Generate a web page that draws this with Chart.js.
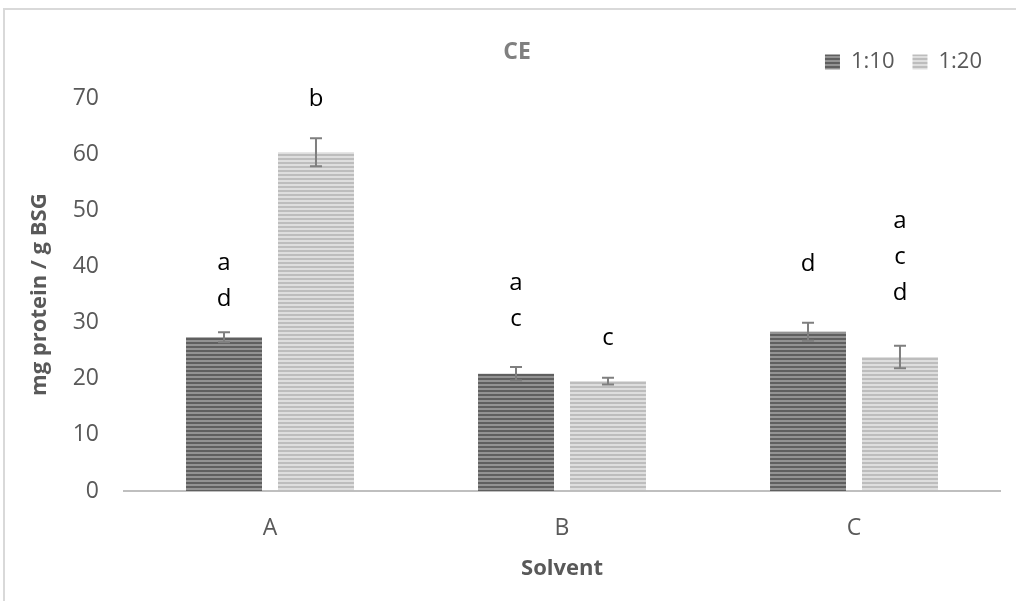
<!DOCTYPE html>
<html>
<head>
<meta charset="utf-8">
<script src="https://cdn.jsdelivr.net/npm/chart.js@4.4.1/dist/chart.umd.min.js"></script>
<style>
  html, body { margin: 0; padding: 0; background: #fff; overflow: hidden; }
  #frame { position: absolute; left: 3px; top: 8px; width: 1040px; height: 620px; border: 2px solid #d9d9d9; }
</style>
</head>
<body>
<div id="frame"><canvas id="chart" width="1040" height="620"></canvas></div>
<script>
// data
const solvents = ['A', 'B', 'C'];
const ratios = ['1:10', '1:20'];
const vals110 = [27.4, 20.9, 28.4];
const vals120 = [60.4, 19.6, 23.9];
const err110 = [0.9, 1.2, 1.6];
const err120 = [2.5, 0.6, 2.0];
// significance letters + where the lowest letter sits (in axis units)
const letters110 = [['a', 'd'], ['a', 'c'], ['d']];
const letters120 = [['b'], ['c'], ['a', 'c', 'd']];
const letterY110 = [34.2, 30.6, 40.4];
const letterY120 = [69.9, 27.3, 35.2];
const yTicks = [0, 10, 20, 30, 40, 50, 60, 70];

const FONT = '"Open Sans", sans-serif';

function stripes(dark, light) {
    const c = document.createElement('canvas');
    c.width = 4; c.height = 4;
    const g = c.getContext('2d');
    g.fillStyle = light; g.fillRect(0, 0, 4, 4);
    g.fillStyle = dark; g.fillRect(0, 0, 4, 2);
    return g.createPattern(c, 'repeat');
}

const ctx = document.getElementById('chart').getContext('2d');
const darkFill = stripes('#5f5f5f', '#939393');
const lightFill = stripes('#bdbdbd', '#dedede');

const errors = [err110, err120];
const letters = [letters110, letters120];
const letterY = [letterY110, letterY120];

// error bars + letters on top of bars
const extras = {
    id: 'extras',
    afterDatasetsDraw(chart) {
        const c = chart.ctx;
        const y = chart.scales.y;
        chart.data.datasets.forEach((ds, di) => {
            chart.getDatasetMeta(di).data.forEach((bar, i) => {
                const v = ds.data[i], e = errors[di][i];
                const top = y.getPixelForValue(v + e), bot = y.getPixelForValue(v - e);
                c.save();
                c.strokeStyle = '#7f7f7f';
                c.lineWidth = 2;
                c.beginPath();
                c.moveTo(bar.x, top); c.lineTo(bar.x, bot);
                c.moveTo(bar.x - 6, top); c.lineTo(bar.x + 6, top);
                c.moveTo(bar.x - 6, bot); c.lineTo(bar.x + 6, bot);
                c.stroke();
                c.fillStyle = '#000';
                c.font = '24px ' + FONT;
                c.textAlign = 'center';
                c.textBaseline = 'middle';
                const list = letters[di][i];
                const base = y.getPixelForValue(letterY[di][i]);
                list.forEach((t, k) => {
                    c.fillText(t, bar.x, base - (list.length - 1 - k) * 36);
                });
                c.restore();
            });
        });
    }
};

new Chart(ctx, {
    type: 'bar',
    data: {
        labels: solvents,
        datasets: [
            { label: ratios[0], data: vals110, backgroundColor: darkFill },
            { label: ratios[1], data: vals120, backgroundColor: lightFill }
        ]
    },
    options: {
        responsive: false,
        animation: false,
        categoryPercentage: 0.63,
        barPercentage: 0.826,
        layout: { padding: { left: 29, right: 45, top: 23, bottom: 19 } },
        plugins: {
            // legend sits above the title box, title is pulled up next to it
            legend: {
                position: 'top',
                align: 'end',
                weight: 2000,
                labels: {
                    color: '#595959',
                    font: { family: FONT, size: 22 },
                    boxWidth: 15,
                    boxHeight: 15,
                    padding: 18
                }
            },
            title: {
                display: true,
                text: 'CE',
                weight: 1000,
                color: '#808080',
                font: { family: FONT, size: 23, weight: 'bold' },
                padding: { top: -44.6, bottom: 32.3 }
            },
            tooltip: { enabled: false }
        },
        scales: {
            x: {
                grid: { display: false, drawTicks: false },
                border: { display: true, color: '#bfbfbf', width: 2 },
                ticks: { color: '#595959', padding: 24, font: { family: FONT, size: 23 } },
                title: {
                    display: true,
                    text: 'Solvent',
                    color: '#595959',
                    font: { family: FONT, size: 22, weight: 'bold' },
                    padding: { top: 0, bottom: 29 }
                },
                afterFit(s) { s.height = 120; }
            },
            y: {
                min: 0,
                max: 70,
                grid: { display: false, drawTicks: false },
                border: { display: false },
                afterBuildTicks(s) { s.ticks = yTicks.map(v => ({ value: v })); },
                ticks: { color: '#595959', padding: 25, font: { family: FONT, size: 23 } },
                title: {
                    display: true,
                    text: 'mg protein / g BSG',
                    color: '#595959',
                    font: { family: FONT, size: 22, weight: 'bold' },
                    padding: { top: -7, bottom: 0 }
                },
                afterFit(s) { s.width = 90; }
            }
        }
    },
    plugins: [extras]
});
</script>
</body>
</html>
